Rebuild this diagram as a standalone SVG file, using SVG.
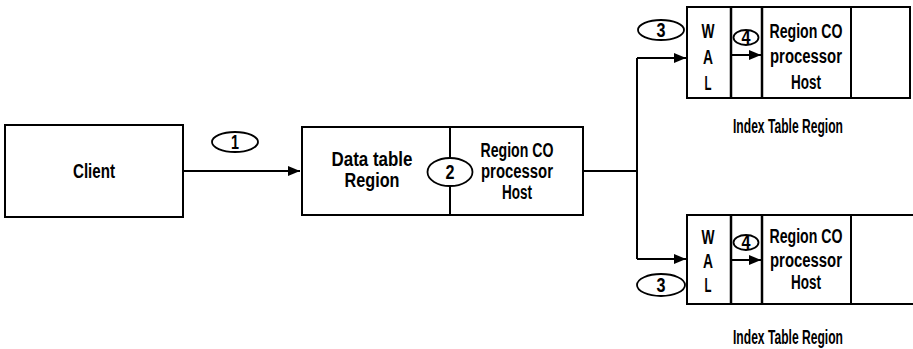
<svg xmlns="http://www.w3.org/2000/svg" width="913" height="349" viewBox="0 0 913 349">
<style>
.box{fill:none;stroke:#000;stroke-width:2}
.ln{fill:none;stroke:#000;stroke-width:2}
.dv{fill:none;stroke:#000;stroke-width:2.5}
.el{fill:#fff;stroke:#000;stroke-width:1.8}
text{font-family:"Liberation Sans",Arial,sans-serif;font-weight:bold;font-size:19.5px;text-anchor:middle;fill:#000}
</style>
<defs>
<marker id="ah" markerUnits="userSpaceOnUse" markerWidth="12" markerHeight="10" viewBox="0 0 12 10" refX="12" refY="5" orient="auto">
<path d="M0,0 L12,5 L0,10 Z" fill="#000"/>
</marker>
</defs>
<rect width="913" height="349" fill="#fff"/>
<g id="connectors">
<line class="ln" x1="183" y1="171" x2="300" y2="171" marker-end="url(#ah)"/>
<polyline class="ln" points="583,171 637,171"/>
<polyline class="ln" points="637,58 637,259"/>
<line class="ln" x1="637" y1="58" x2="686" y2="58" marker-end="url(#ah)"/>
<line class="ln" x1="637" y1="259" x2="686" y2="259" marker-end="url(#ah)"/>
<line class="ln" x1="731" y1="55" x2="761" y2="55" marker-end="url(#ah)"/>
<line class="ln" x1="731" y1="260" x2="761" y2="260" marker-end="url(#ah)"/>
</g>
<g id="client">
<rect class="box" x="5" y="125" width="178" height="92"/>
<text x="94" y="178" textLength="42" lengthAdjust="spacingAndGlyphs">Client</text>
</g>
<g id="step1">
<ellipse class="el" cx="235" cy="142" rx="23" ry="10"/>
<text x="235" y="149" textLength="8" lengthAdjust="spacingAndGlyphs">1</text>
</g>
<g id="data-region">
<rect class="box" x="302" y="127" width="281" height="88"/>
<line class="ln" x1="450" y1="127" x2="450" y2="215"/>
<text x="372" y="166" textLength="81" lengthAdjust="spacingAndGlyphs">Data table</text>
<text x="372" y="187" textLength="55" lengthAdjust="spacingAndGlyphs">Region</text>
<text x="517" y="157" textLength="73" lengthAdjust="spacingAndGlyphs">Region CO</text>
<text x="517" y="178" textLength="72" lengthAdjust="spacingAndGlyphs">processor</text>
<text x="517" y="199" textLength="30" lengthAdjust="spacingAndGlyphs">Host</text>
</g>
<g id="step2">
<ellipse class="el" cx="450" cy="172" rx="22.5" ry="14"/>
<text x="450" y="179" textLength="9" lengthAdjust="spacingAndGlyphs">2</text>
</g>
<g id="index-region-top">
<rect class="box" x="687" y="7" width="223" height="91"/>
<line class="dv" x1="731" y1="7" x2="731" y2="98"/>
<line class="dv" x1="762" y1="7" x2="762" y2="98"/>
<line class="ln" x1="851" y1="7" x2="851" y2="98"/>
<text x="708" y="38" textLength="13" lengthAdjust="spacingAndGlyphs">W</text>
<text x="708" y="64" textLength="10" lengthAdjust="spacingAndGlyphs">A</text>
<text x="708" y="90" textLength="7" lengthAdjust="spacingAndGlyphs">L</text>
<text x="806" y="38" textLength="73" lengthAdjust="spacingAndGlyphs">Region CO</text>
<text x="806" y="63" textLength="72" lengthAdjust="spacingAndGlyphs">processor</text>
<text x="806" y="89" textLength="30" lengthAdjust="spacingAndGlyphs">Host</text>
<text x="788" y="133" textLength="110" lengthAdjust="spacingAndGlyphs">Index Table Region</text>
</g>
<g id="step3-top">
<ellipse class="el" cx="661" cy="30" rx="23" ry="10"/>
<text x="661" y="37" textLength="9" lengthAdjust="spacingAndGlyphs">3</text>
</g>
<g id="step4-top">
<ellipse class="el" cx="746" cy="37.5" rx="12.5" ry="7.5"/>
<text x="746" y="44" textLength="9" lengthAdjust="spacingAndGlyphs">4</text>
</g>
<g id="index-region-bottom">
<path class="ln" d="M913,215 L687,215 L687,304 L913,304"/>
<line class="dv" x1="731" y1="215" x2="731" y2="304"/>
<line class="dv" x1="762" y1="215" x2="762" y2="304"/>
<line class="ln" x1="851" y1="215" x2="851" y2="304"/>
<text x="708" y="244" textLength="13" lengthAdjust="spacingAndGlyphs">W</text>
<text x="708" y="268" textLength="10" lengthAdjust="spacingAndGlyphs">A</text>
<text x="708" y="292" textLength="7" lengthAdjust="spacingAndGlyphs">L</text>
<text x="806" y="243" textLength="73" lengthAdjust="spacingAndGlyphs">Region CO</text>
<text x="806" y="267" textLength="72" lengthAdjust="spacingAndGlyphs">processor</text>
<text x="806" y="289" textLength="30" lengthAdjust="spacingAndGlyphs">Host</text>
<text x="788" y="344" textLength="110" lengthAdjust="spacingAndGlyphs">Index Table Region</text>
</g>
<g id="step3-bottom">
<ellipse class="el" cx="661" cy="285" rx="24" ry="11"/>
<text x="661" y="292" textLength="9" lengthAdjust="spacingAndGlyphs">3</text>
</g>
<g id="step4-bottom">
<ellipse class="el" cx="746" cy="242.5" rx="12.5" ry="7.5"/>
<text x="746" y="249" textLength="9" lengthAdjust="spacingAndGlyphs">4</text>
</g>
</svg>
